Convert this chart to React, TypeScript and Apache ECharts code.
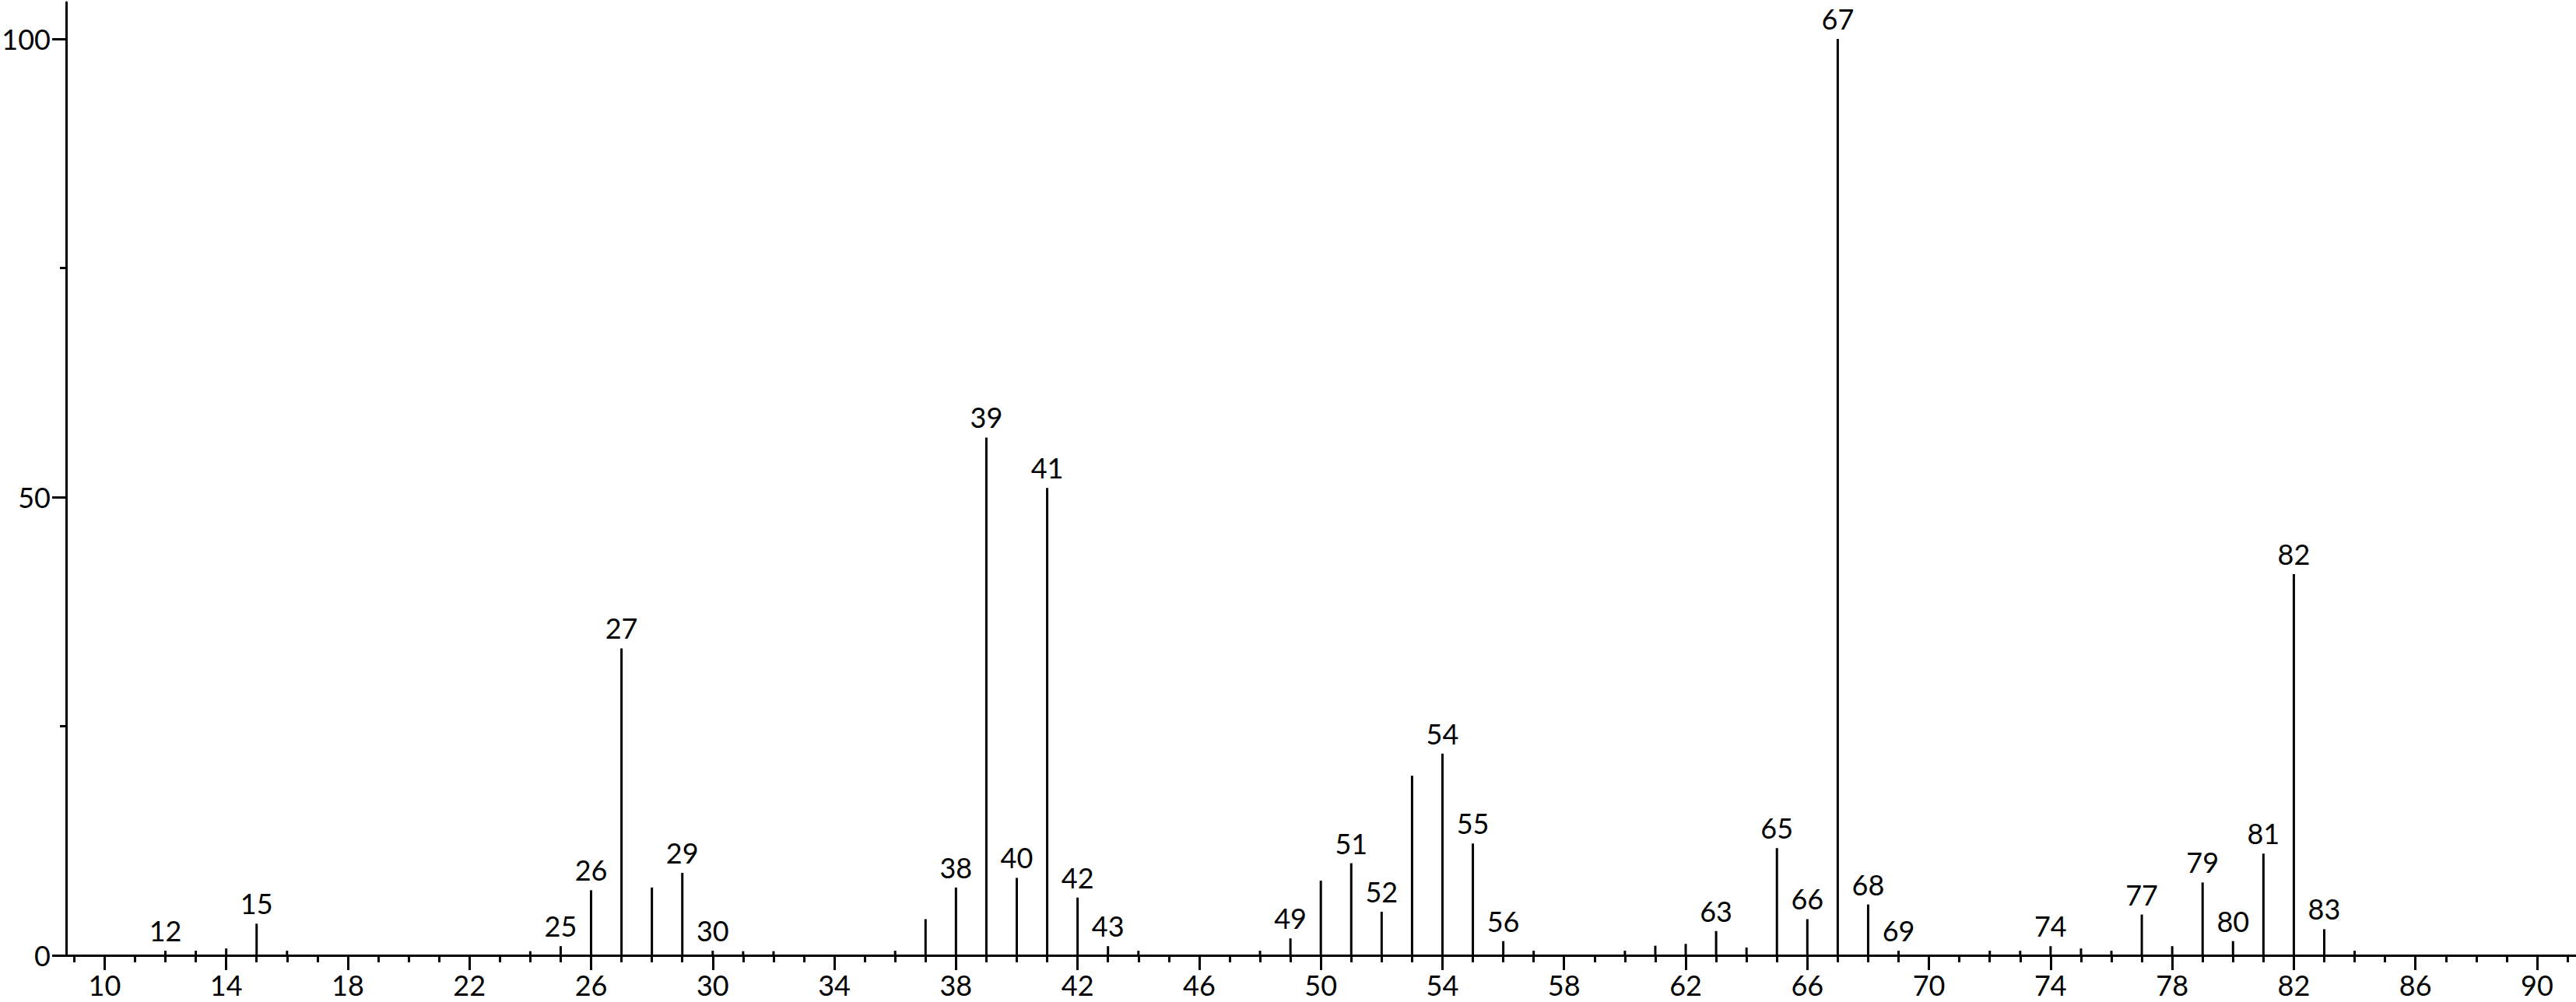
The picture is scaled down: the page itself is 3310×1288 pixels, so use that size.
import React, { useEffect, useRef } from "react";
import * as echarts from "echarts";

// m/z values and relative intensities
const masses = [
  12, 13, 14, 15, 16, 24, 25, 26, 27, 28, 29, 30, 31, 32, 36, 37, 38, 39, 40, 41,
  42, 43, 44, 48, 49, 50, 51, 52, 53, 54, 55, 56, 57, 60, 61, 62, 63, 64, 65, 66,
  67, 68, 69, 72, 73, 74, 75, 76, 77, 78, 79, 80, 81, 82, 83, 84,
];
const intensities = [
  0.5, 0.5, 0.75, 3.45, 0.5, 0.45, 1.0, 7.1, 33.5, 7.4, 9.0, 0.5, 0.45, 0.45, 0.5, 3.95, 7.4, 56.5, 8.45, 51.0,
  6.3, 1.0, 0.5, 0.5, 1.85, 8.15, 10.05, 4.75, 19.6, 22.0, 12.2, 1.55, 0.5, 0.5, 1.05, 1.25, 2.65, 0.85, 11.7, 3.95,
  100, 5.55, 0.5, 0.5, 0.5, 1.0, 0.75, 0.5, 4.45, 1.0, 7.95, 1.55, 11.1, 41.6, 2.85, 0.5,
];
const labeledMasses = [
  12, 15, 25, 26, 27, 29, 30, 38, 39, 40, 41, 42, 43, 49, 51, 52, 54, 55, 56, 63,
  65, 66, 67, 68, 69, 74, 77, 79, 80, 81, 82, 83,
];
const xMajorTicks = [10, 14, 18, 22, 26, 30, 34, 38, 42, 46, 50, 54, 58, 62, 66, 70, 74, 78, 82, 86, 90];
const xMinorTicks = [
  9, 10, 11, 12, 13, 14, 15, 16, 17, 18, 19, 20, 21, 22, 23, 24, 25, 26, 27, 28, 29, 30,
  31, 32, 33, 34, 35, 36, 37, 38, 39, 40, 41, 42, 43, 44, 45, 46, 47, 48, 49, 50, 51, 52,
  53, 54, 55, 56, 57, 58, 59, 60, 61, 62, 63, 64, 65, 66, 67, 68, 69, 70, 71, 72, 73, 74,
  75, 76, 77, 78, 79, 80, 81, 82, 83, 84, 85, 86, 87, 88, 89, 90, 91,
];
const yMajorTicks = [0, 50, 100];
const yMinorTicks = [25, 75];

const FONT = "Lato";
const FS = 36;

export default function App() {
  const ref = useRef<HTMLDivElement>(null);
  useEffect(() => {
    if (!ref.current) return;
    const chart = echarts.init(ref.current, null, { renderer: "svg" });
    const xMin = 8.736;
    const xMax = 91.28;
    const data = masses.map((m, i) => ({
      value: [m, intensities[i]],
      label: { show: labeledMasses.includes(m) },
    }));
    const baseAxisLine = { show: true, lineStyle: { color: "#000", width: 3 } };
    chart.setOption({
      animation: false,
      backgroundColor: "#fff",
      grid: {
        left: 85,
        right: 0,
        top: 3,
        bottom: 60,
        containLabel: false,
        outerBoundsMode: "none",
      },
      xAxis: [
        {
          type: "value",
          position: "bottom",
          min: xMin,
          max: xMax,
          axisLine: { ...baseAxisLine, onZero: false },
          splitLine: { show: false },
          axisTick: {
            show: true,
            customValues: xMajorTicks,
            length: 19,
            lineStyle: { color: "#000", width: 3 },
          },
          axisLabel: {
            show: true,
            customValues: xMajorTicks,
            margin: 21,
            fontSize: FS,
            lineHeight: 34,
            fontFamily: FONT,
            color: "#000",
          },
        },
        {
          type: "value",
          position: "bottom",
          min: xMin,
          max: xMax,
          axisLine: { show: false, onZero: false },
          splitLine: { show: false },
          axisTick: {
            show: true,
            customValues: xMinorTicks,
            length: 9,
            lineStyle: { color: "#000", width: 3 },
          },
          axisLabel: { show: false },
        },
      ],
      yAxis: [
        {
          type: "value",
          position: "left",
          min: 0,
          max: 104,
          axisLine: baseAxisLine,
          splitLine: { show: false },
          axisTick: {
            show: true,
            customValues: yMajorTicks,
            length: 18,
            lineStyle: { color: "#000", width: 3 },
          },
          axisLabel: {
            show: true,
            customValues: yMajorTicks,
            margin: 20,
            fontSize: FS,
            fontFamily: FONT,
            color: "#000",
          },
        },
        {
          type: "value",
          position: "left",
          min: 0,
          max: 104,
          axisLine: { show: false },
          splitLine: { show: false },
          axisTick: {
            show: true,
            customValues: yMinorTicks,
            length: 8,
            lineStyle: { color: "#000", width: 3 },
          },
          axisLabel: { show: false },
        },
      ],
      series: [
        {
          type: "bar",
          xAxisIndex: 0,
          yAxisIndex: 0,
          barWidth: 3,
          itemStyle: { color: "#000" },
          label: {
            show: false,
            position: "top",
            distance: 9,
            fontSize: FS,
            lineHeight: 34,
            fontFamily: FONT,
            color: "#000",
            formatter: (p: any) => String(p.value[0]),
          },
          data,
        },
      ],
    });
    return () => chart.dispose();
  }, []);
  return (
    <div
      ref={ref}
      style={{ position: "fixed", left: 0, top: 0, width: 3310, height: 1288, background: "#fff" }}
    />
  );
}
